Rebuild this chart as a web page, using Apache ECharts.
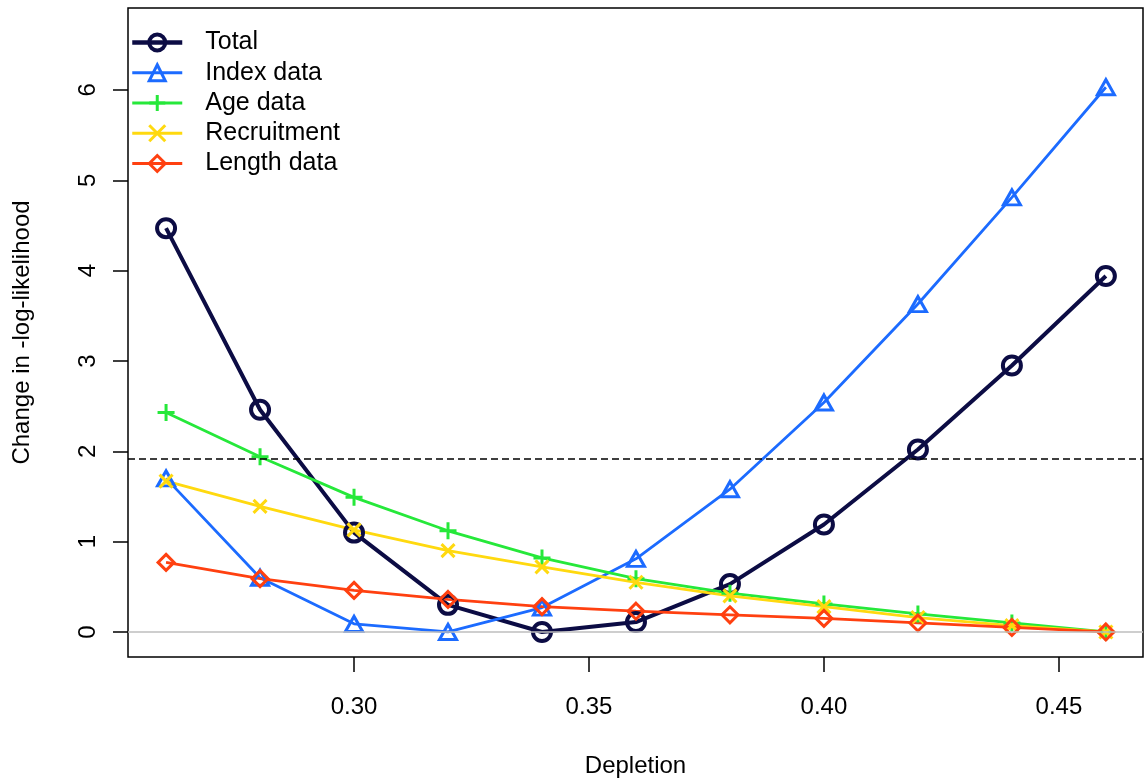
<!DOCTYPE html>
<html>
<head>
<meta charset="utf-8">
<script src="https://cdn.jsdelivr.net/npm/echarts@6/dist/echarts.min.js"></script>
<style>html,body{margin:0;padding:0;background:#fff;}#chart{width:1145px;height:780px;}</style>
</head>
<body>
<div id="chart"></div>
<script>
const depletion = [0.26, 0.28, 0.30, 0.32, 0.34, 0.36, 0.38, 0.40, 0.42, 0.44, 0.46];
const total       = [4.47, 2.46, 1.10, 0.30, 0.00, 0.11, 0.53, 1.19, 2.02, 2.95, 3.94];
const indexData   = [1.70, 0.60, 0.09, 0.00, 0.27, 0.81, 1.58, 2.54, 3.63, 4.81, 6.03];
const ageData     = [2.43, 1.94, 1.49, 1.12, 0.82, 0.59, 0.43, 0.31, 0.20, 0.10, 0.00];
const recruitment = [1.67, 1.39, 1.13, 0.90, 0.72, 0.55, 0.40, 0.28, 0.16, 0.07, 0.00];
const lengthData  = [0.77, 0.59, 0.46, 0.36, 0.28, 0.23, 0.19, 0.15, 0.10, 0.05, 0.00];
const seriesNames = ['Total', 'Index data', 'Age data', 'Recruitment', 'Length data'];
const xTicks = [0.30, 0.35, 0.40, 0.45];
const yTicks = [0, 1, 2, 3, 4, 5, 6];
const cutoff = 1.92;

const FONT = 'Liberation Sans, Arial, sans-serif';
const pairs = arr => depletion.map((d, i) => [d, arr[i]]);

const styles = [
  { color: '#0C0C44', symbol: 'circle', size: 18, lw: 4, bw: 4 },
  { color: '#1C6BFF', symbol: 'triangle', size: [17, 15], lw: 2.8, bw: 3 },
  { color: '#26E83A', symbol: 'path://M0,-10 L0,10 M-10,0 L10,0', size: 17, lw: 2.8, bw: 3 },
  { color: '#FFD90F', symbol: 'path://M-10,-10 L10,10 M-10,10 L10,-10', size: 13, lw: 2.8, bw: 3 },
  { color: '#FF4010', symbol: 'diamond', size: 16, lw: 2.8, bw: 3 }
];
const seriesData = [total, indexData, ageData, recruitment, lengthData];

const series = seriesNames.map((name, i) => {
  const s = styles[i];
  return {
    name, type: 'line', data: pairs(seriesData[i]),
    symbol: s.symbol, symbolSize: s.size,
    lineStyle: { color: s.color, width: s.lw },
    itemStyle: { color: 'rgba(0,0,0,0)', borderColor: s.color, borderWidth: s.bw },
    emphasis: { disabled: true },
    animation: false
  };
});
series[0].markLine = {
  silent: true, symbol: 'none', label: { show: false }, animation: false,
  data: [
    { yAxis: 0, lineStyle: { color: '#bebebe', width: 1.5, type: 'solid' } },
    { yAxis: cutoff, lineStyle: { color: '#000', width: 1.5, type: [7, 4] } }
  ]
};

const legendData = seriesNames.map((name, i) => ({
  name,
  lineStyle: { color: styles[i].color, width: i === 0 ? 4.5 : 3 },
  itemStyle: { color: 'rgba(0,0,0,0)', borderColor: styles[i].color, borderWidth: i === 0 ? 4 : 3 }
}));

const chart = echarts.init(document.getElementById('chart'));
chart.setOption({
  animation: false,
  backgroundColor: '#fff',
  grid: { left: 128, top: 8, right: 2, bottom: 123, show: true, borderColor: '#000', borderWidth: 1.5, backgroundColor: 'transparent', containLabel: false, outerBoundsMode: 'none' },
  legend: {
    data: legendData, orient: 'vertical', left: 130, top: 30, padding: 0,
    itemWidth: 50, itemHeight: 20, itemGap: 5.25,
    textStyle: { fontFamily: FONT, fontSize: 25, lineHeight: 24, color: '#000', padding: [0, 0, 0, 18] },
    selectedMode: false
  },
  xAxis: {
    type: 'value', min: 0.2519, max: 0.4679,
    name: 'Depletion', nameLocation: 'middle', nameGap: 97,
    nameTextStyle: { fontFamily: FONT, fontSize: 24, color: '#000' },
    axisLine: { show: false, onZero: false },
    axisTick: { show: true, inside: false, length: 15, lineStyle: { color: '#000', width: 1.5 }, customValues: xTicks },
    axisLabel: { fontFamily: FONT, fontSize: 24, color: '#000', margin: 38, customValues: xTicks, formatter: v => v.toFixed(2) },
    splitLine: { show: false }
  },
  yAxis: {
    type: 'value', min: -0.277, max: 6.907,
    name: 'Change in -log-likelihood', nameLocation: 'middle', nameGap: 94, nameRotate: 90,
    nameTextStyle: { fontFamily: FONT, fontSize: 24, color: '#000' },
    axisLine: { show: false, onZero: false },
    axisTick: { show: true, inside: false, length: 15, lineStyle: { color: '#000', width: 1.5 }, customValues: yTicks },
    axisLabel: { fontFamily: FONT, fontSize: 24, color: '#000', margin: 28, rotate: 90, customValues: yTicks, formatter: v => String(v) },
    splitLine: { show: false }
  },
  series
});
</script>
</body>
</html>
